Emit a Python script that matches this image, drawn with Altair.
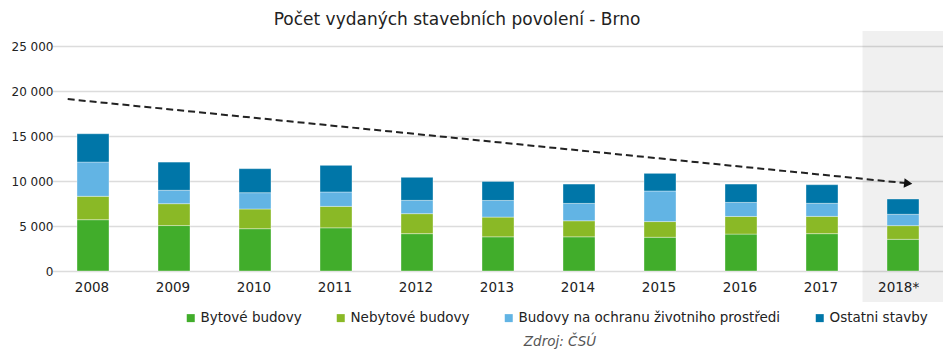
import altair as alt
import pandas as pd

years = ["2008", "2009", "2010", "2011", "2012", "2013", "2014", "2015", "2016", "2017", "2018*"]
bytove = [5700, 5050, 4700, 4800, 4150, 3800, 3800, 3750, 4100, 4150, 3520]
nebytove = [2600, 2430, 2190, 2380, 2220, 2190, 1780, 1740, 1960, 1920, 1520]
budovy_zp = [3800, 1490, 1810, 1600, 1480, 1850, 1930, 3400, 1560, 1450, 1260]
ostatni = [3150, 3130, 2670, 2960, 2560, 2110, 2150, 1960, 2040, 2070, 1700]

series_names = ["Bytové budovy", "Nebytové budovy",
                "Budovy na ochranu životniho prostředi", "Ostatni stavby"]
series_colors = ["#41ad2b", "#8ab926", "#62b4e4", "#0076a8"]

highlight_year = ["2018*"]
trend_from = ["2008"]
trend_to = ["2018*"]
trend_start_value = [19100]
trend_end_value = [9770]
arrow_value = [9730]

FONT = "DejaVu Sans"

rows = []
for i, y in enumerate(years):
    for k, (name, vals) in enumerate(zip(series_names, [bytove, nebytove, budovy_zp, ostatni])):
        rows.append({"rok": y, "typ": name, "pocet": vals[i], "poradi": k})
df = pd.DataFrame(rows)

x_scale = alt.Scale(domain=years, range=[-14.5, 876.5], paddingInner=0.6, paddingOuter=0.3)
y_scale = alt.Scale(domain=[0, 25000])

highlight = alt.Chart(pd.DataFrame({"rok": highlight_year})).mark_bar(
    size=81, color="#000000", opacity=0.06
).encode(
    x=alt.X("rok:N", scale=x_scale),
    y=alt.value(-15),
    y2=alt.value(256),
)

bars = alt.Chart(df).mark_bar(size=32, stroke="#ffffff", strokeWidth=0.6, strokeOpacity=0.6).encode(
    x=alt.X("rok:N", scale=x_scale, sort=years,
            axis=alt.Axis(title=None, labelAngle=0, domain=False, ticks=False,
                          labelOffset=16.2,
                          labelFontSize=13.5, labelColor="#222222", labelFont=FONT,
                          labelPadding=16, grid=False)),
    y=alt.Y("pocet:Q", stack="zero", scale=y_scale,
            axis=alt.Axis(title=None, values=[0, 5000, 10000, 15000, 20000, 25000],
                          labelExpr="replace(format(datum.value, ',d'), ',', ' ')",
                          domain=False, ticks=False, labelFontSize=12, labelColor="#222222",
                          labelFont=FONT, labelPadding=14,
                          gridColor="#dcdcdc", gridWidth=1.5)),
    color=alt.Color("typ:N", scale=alt.Scale(domain=series_names, range=series_colors),
                    legend=alt.Legend(title=None, orient="none", direction="horizontal",
                                      legendX=117, legendY=265, symbolType="square",
                                      symbolSize=64, symbolStrokeWidth=0, labelFontSize=13.5,
                                      labelFont=FONT, labelColor="#222222", labelOffset=3,
                                      labelLimit=0, columnPadding=32, columns=4)),
    order=alt.Order("poradi:Q", sort="ascending"),
)

trend_df = pd.DataFrame({"od": trend_from, "do": trend_to,
                         "v1": trend_start_value, "v2": trend_end_value})
trend = alt.Chart(trend_df).mark_rule(color="#222222", strokeWidth=2, strokeDash=[7, 4],
                                       xOffset=-9.1).encode(
    x=alt.X("od:N", scale=x_scale, bandPosition=0),
    x2=alt.X2("do:N", bandPosition=0.57),
    y=alt.Y("v1:Q", scale=y_scale),
    y2=alt.Y2("v2:Q"),
)

arrow_df = pd.DataFrame({"do": trend_to, "v": arrow_value})
arrow = alt.Chart(arrow_df).mark_point(shape="triangle-right", filled=True, color="#111111",
                                        size=90, angle=6, opacity=1).encode(
    x=alt.X("do:N", scale=x_scale, bandPosition=0.66),
    y=alt.Y("v:Q", scale=y_scale),
)

source = alt.Chart(pd.DataFrame({"t": ["Zdroj: ČSÚ"]})).mark_text(
    font=FONT, fontSize=13.5, fontStyle="italic", color="#555555", baseline="middle"
).encode(x=alt.value(493), y=alt.value(296), text="t:N")

chart = alt.layer(highlight, bars, trend, arrow, source).properties(
    width=876, height=225,
    title=alt.TitleParams("Počet vydaných stavebních povolení - Brno", font=FONT,
                          fontSize=17, fontWeight="normal", color="#222222",
                          anchor="middle", dx=-48, offset=2),
    autosize=alt.AutoSizeParams(type="none"),
    padding={"left": 67, "top": 46, "right": 0, "bottom": 81},
).configure_view(stroke=None)

chart.save("out.html", embed_options={"renderer": "svg", "actions": False})
